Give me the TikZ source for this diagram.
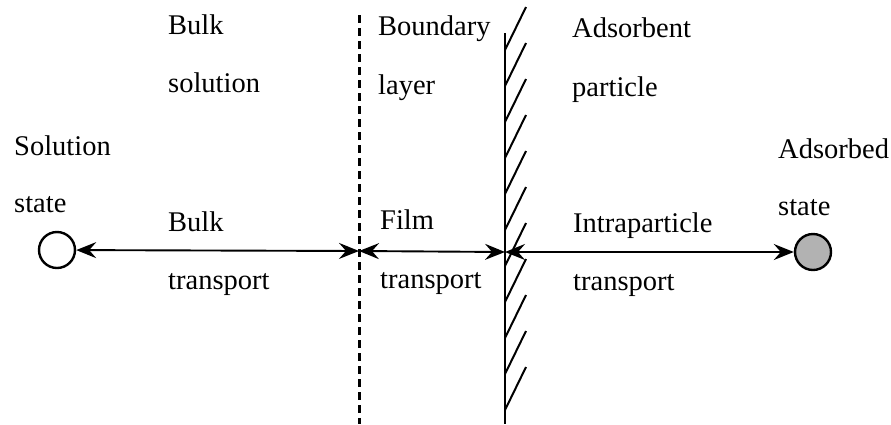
\documentclass[tikz,border=0pt]{standalone}
\usepackage{fontspec}
\setmainfont{Liberation Serif}
\usetikzlibrary{arrows.meta}
\begin{document}
\begin{tikzpicture}[x=1pt,y=-1pt,
  lbl/.style={anchor=base west,inner sep=0pt,font=\fontsize{28.5}{34}\selectfont},
  statecirc/.style={circle,draw,line width=2.4pt,minimum size=36pt,inner sep=0pt},
  biarrow/.style={line width=1.9pt,{Stealth[length=20pt,width=16pt,inset=7pt]}-{Stealth[length=20pt,width=16pt,inset=7pt]}},
  hatch/.style={line width=2pt},
  wall/.style={line width=2.6pt},
  dashline/.style={line width=3pt,dash pattern=on 8pt off 5pt}]
\useasboundingbox (0,0) rectangle (891,424);
% states
\node[statecirc,fill=white] (sol) at (57,250) {};
\node[statecirc,fill=gray!60] (ads) at (813,252) {};
% boundary (dashed) and particle surface (solid)
\coordinate (dtop) at (359,15);
\coordinate (dbot) at (359,424);
\coordinate (dmid) at (359,251);
\draw[dashline] (dtop) -- (dbot);
\coordinate (wtop) at (505,33);
\coordinate (wbot) at (505,424);
\coordinate (wmid) at (505,252);
\draw[wall] (wtop) -- (wbot);
\foreach \y in {50,86,...,410}{
  \draw[hatch] (505,\y) -- ++(21,-43);
}
% transport arrows
\draw[biarrow] (sol) -- (dmid);
\draw[biarrow] (dmid) -- (wmid);
\draw[biarrow] (wmid) -- (ads);
% labels
\node[lbl] (t1) at (168,34) {Bulk};
\node[lbl] (t2) at (168,92) {solution};
\node[lbl] (t3) at (378,35) {Boundary};
\node[lbl] (t4) at (378,94) {layer};
\node[lbl] (t5) at (572,37) {Adsorbent};
\node[lbl] (t6) at (572,96) {particle};
\node[lbl] (t7) at (14,155) {Solution};
\node[lbl] (t8) at (14,212) {state};
\node[lbl] (t9) at (778,158) {Adsorbed};
\node[lbl] (t10) at (778,215) {state};
\node[lbl] (t11) at (168,231) {Bulk};
\node[lbl] (t12) at (168,289) {transport};
\node[lbl] (t13) at (380,229) {Film};
\node[lbl] (t14) at (380,288) {transport};
\node[lbl] (t15) at (573,232) {Intraparticle};
\node[lbl] (t16) at (573,290) {transport};
\end{tikzpicture}
\end{document}
